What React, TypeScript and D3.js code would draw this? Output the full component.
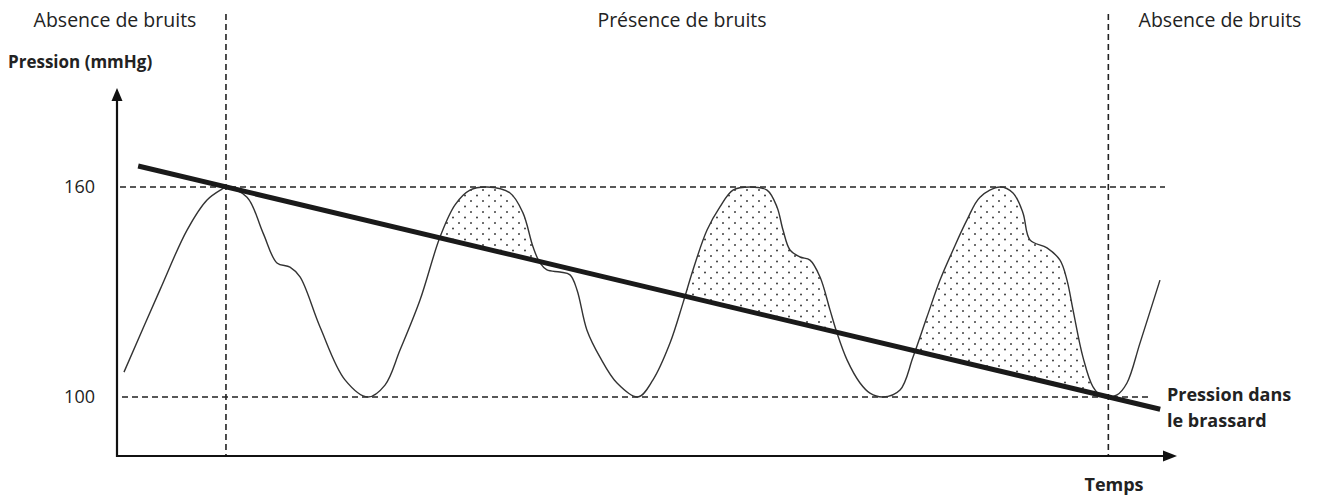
import { area, axisLeft, curveCatmullRom, line, scaleLinear, select } from "d3";
import { useEffect, useRef } from "react";

const W = 1321;
const H = 500;

// pression artérielle (mmHg), temps en unités arbitraires (0..100)
const waveT = [
  0.66, 4.06, 6.62, 8.51, 9.92, 10.3, 12.29, 13.8, 15.12, 16.35, 17.3, 19.19, 21.55, 23.72,
  25.33, 26.75, 28.64, 30.53, 31.95, 33.36, 34.97, 37.15, 38.37, 39.32, 39.98, 40.64, 41.87,
  42.82, 43.48, 44.42, 45.65, 47.26, 49.24, 50.66, 52.27, 53.5, 54.44, 55.77, 56.99, 58.22,
  59.83, 61.44, 62.38, 62.95, 63.61, 64.56, 65.5, 66.45, 67.39, 68.05, 69.0, 70.23, 71.17,
  72.4, 74.01, 75.24, 76.56, 77.79, 79.02, 80.34, 81.57, 83.46, 84.69, 85.63, 86.29, 87.9,
  89.13, 89.79, 90.36, 91.3, 92.25, 93.19, 94.52, 95.46, 96.69, 98.58,
];
const waveP = [
  107.1, 130.6, 147.7, 156.3, 159.4, 160, 157.1, 146.9, 138.3, 137.1, 134.3, 120, 104.9, 100,
  103.4, 113.4, 127.7, 145.7, 154.9, 159.1, 160, 158.3, 152.6, 142.9, 138.3, 136.3, 135.7,
  134.9, 130.6, 119.1, 111.4, 104, 100, 104.9, 115.4, 126.9, 136.3, 147.7, 154.3, 159.1,
  160, 159.1, 154.3, 147.7, 142, 140, 139.1, 134.3, 124.9, 118.3, 110.6, 104, 101.1,
  100, 102, 111.4, 122.9, 133.4, 142, 150.6, 157.1, 160, 158.3, 152.6, 144.9, 142.6,
  139.1, 133.4, 124.9, 111.4, 102.9, 100, 100.6, 104, 115.4, 133.4,
];

// pression dans le brassard (droite)
const cuffT = [2, 98.6];
const cuffP = [166, 96.5];

// limites de la zone de bruits (Korotkoff)
const noiseLimits = [10.3, 93.7];

const yTicks = [100, 160];
const zoneLabels = ["Absence de bruits", "Présence de bruits", "Absence de bruits"];

const FONT = "'Open Sans', sans-serif";

const App = () => {
  const ref = useRef<SVGSVGElement>(null);

  useEffect(() => {
    if (!ref.current) return;
    const svg = select(ref.current).attr("width", W).attr("height", H);
    svg.selectAll("*").remove();

    const x0 = 117;
    const xEnd = 1177;
    const yBase = 456;
    const yTop = 88;

    const xScale = scaleLinear().domain([0, 100]).range([117, 1175]);
    const yScale = scaleLinear().domain([100, 160]).range([397, 187]);

    const wave = waveT.map((t, i) => ({ t, p: waveP[i] }));
    const cuff = cuffT.map((t, i) => ({ t, p: cuffP[i] }));
    const cuffAt = (t: number) =>
      cuffP[0] + ((cuffP[1] - cuffP[0]) * (t - cuffT[0])) / (cuffT[1] - cuffT[0]);
    const curve = curveCatmullRom.alpha(0.5);

    const defs = svg.append("defs");
    const pat = defs
      .append("pattern")
      .attr("id", "dots")
      .attr("width", 12)
      .attr("height", 11)
      .attr("patternUnits", "userSpaceOnUse");
    pat.append("circle").attr("cx", 3).attr("cy", 3).attr("r", 0.95).attr("fill", "#333");
    pat.append("circle").attr("cx", 9).attr("cy", 8.5).attr("r", 0.95).attr("fill", "#333");

    const [a, b] = noiseLimits;
    defs
      .append("clipPath")
      .attr("id", "above-cuff")
      .append("path")
      .attr(
        "d",
        `M${xScale(a)},${yScale(cuffAt(a))}L${xScale(b)},${yScale(cuffAt(b))}L${xScale(b)},0L${xScale(a)},0Z`
      );

    // zone pointillée : pression artérielle > pression du brassard
    svg
      .append("path")
      .datum(wave)
      .attr(
        "d",
        area<{ t: number; p: number }>()
          .x((d) => xScale(d.t))
          .y0(yBase)
          .y1((d) => yScale(d.p))
          .curve(curve)
      )
      .attr("fill", "url(#dots)")
      .attr("clip-path", "url(#above-cuff)");

    const dashed = { stroke: "#222", "stroke-width": 1.6, "stroke-dasharray": "6 4" };

    // lignes horizontales 160 / 100
    const hLines = [
      { v: 160, x1: 120, x2: 1165 },
      { v: 100, x1: 122, x2: 1152 },
    ];
    hLines.forEach(({ v, x1, x2 }) => {
      const l = svg
        .append("line")
        .attr("x1", x1)
        .attr("x2", x2)
        .attr("y1", yScale(v))
        .attr("y2", yScale(v));
      Object.entries(dashed).forEach(([k, val]) => l.attr(k, val));
    });

    // lignes verticales (limites des bruits)
    noiseLimits.forEach((t) => {
      const l = svg
        .append("line")
        .attr("x1", xScale(t))
        .attr("x2", xScale(t))
        .attr("y1", 14)
        .attr("y2", yBase);
      Object.entries(dashed).forEach(([k, val]) => l.attr(k, val));
    });

    // courbe de pression artérielle
    svg
      .append("path")
      .datum(wave)
      .attr(
        "d",
        line<{ t: number; p: number }>()
          .x((d) => xScale(d.t))
          .y((d) => yScale(d.p))
          .curve(curve)
      )
      .attr("fill", "none")
      .attr("stroke", "#333")
      .attr("stroke-width", 1.4);

    // pression dans le brassard
    svg
      .append("path")
      .datum(cuff)
      .attr(
        "d",
        line<{ t: number; p: number }>()
          .x((d) => xScale(d.t))
          .y((d) => yScale(d.p))
      )
      .attr("fill", "none")
      .attr("stroke", "#1a1a1a")
      .attr("stroke-width", 5);

    // axes
    svg
      .append("path")
      .attr("d", `M${x0},${yTop + 10}V${yBase}H${xEnd - 12}`)
      .attr("fill", "none")
      .attr("stroke", "#111")
      .attr("stroke-width", 2.2);
    svg
      .append("path")
      .attr("d", `M${x0},${yTop}l-5.5,13h11Z`)
      .attr("fill", "#111");
    svg
      .append("path")
      .attr("d", `M${xEnd},${yBase}l-14,-5.5v11Z`)
      .attr("fill", "#111");

    const yAxis = axisLeft(yScale).tickValues(yTicks).tickSize(0).tickPadding(22);
    const gy = svg.append("g").attr("transform", `translate(${x0},0)`).call(yAxis);
    gy.select(".domain").remove();
    gy.selectAll("text")
      .attr("font-family", FONT)
      .attr("font-size", 18)
      .attr("fill", "#222");

    // textes
    const zoneX = [115, 682, 1220];
    zoneLabels.forEach((s, i) => {
      svg
        .append("text")
        .attr("x", zoneX[i])
        .attr("y", 27)
        .attr("text-anchor", "middle")
        .attr("font-family", FONT)
        .attr("font-size", 19.5)
        .attr("fill", "#222")
        .text(s);
    });

    const bold = (s: string, x: number, y: number, size: number, anchor = "start") =>
      svg
        .append("text")
        .attr("x", x)
        .attr("y", y)
        .attr("text-anchor", anchor)
        .attr("font-family", FONT)
        .attr("font-weight", "bold")
        .attr("font-size", size)
        .attr("fill", "#222")
        .text(s);

    bold("Pression (mmHg)", 8, 68, 17);
    bold("Pression dans", 1167, 401, 18);
    bold("le brassard", 1167, 427, 18);
    bold("Temps", 1114, 491, 18, "middle");
  }, []);

  return (
    <div style={{ position: "absolute", left: 0, top: 0 }}>
      <svg ref={ref} style={{ display: "block", background: "#fff" }} />
    </div>
  );
};

export default App;
